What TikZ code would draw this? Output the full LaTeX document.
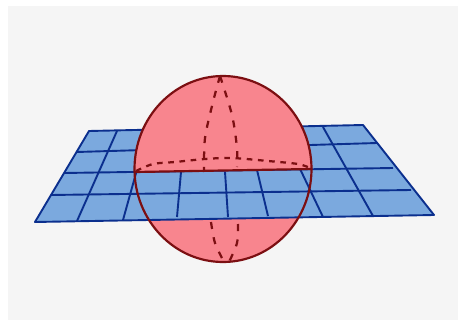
\documentclass[tikz,border=0pt]{standalone}
\definecolor{panelgray}{HTML}{F5F5F5}
\definecolor{planeblue}{HTML}{7BA9DE}
\definecolor{gridblue}{HTML}{0B2F8E}
\definecolor{ballpink}{HTML}{F8858E}
\definecolor{ballred}{HTML}{7C0F12}

\begin{document}
\begin{tikzpicture}[x=0.05cm, y=-0.05cm, line join=round]

\tikzset{
  gridline/.style={gridblue, line width=2.7pt},
  ballline/.style={ballred, line width=3.1pt},
  equatordash/.style={ballred, line width=3.2pt, dash pattern=on 8pt off 8pt},
  meridiandash/.style={ballred, line width=3.2pt, dash pattern=on 10pt off 12pt}
}

% Page and background
\useasboundingbox (0,0) rectangle (460,322);
\fill[panelgray] (8,6) rectangle (458,320);

% Ball centre
\coordinate (centre) at (223,169);

%%% Lower half of the ball, under the plane %%%
\fill[ballpink] (centre) ellipse (4.425cm and 4.65cm);
\draw[meridiandash] plot[smooth] coordinates {(211,222) (215,243) (224,262)};
\draw[meridiandash] plot[smooth] coordinates {(238,224) (237,243) (229,262)};

%%% Plane %%%
\fill[planeblue] (35,222) -- (89,131) -- (363,125) -- (434,215) -- cycle;

% Lines across
\foreach \xa/\ya/\xb/\yb in {77/152/377/143, 64/173/393/168, 51/195/411/190}
  \draw[gridline] (\xa,\ya) -- (\xb,\yb);
% Lines in depth
\foreach \xa/\ya/\xb/\yb in {117/131/77/221, 148/130/123/220, 181/172/177/217, 225/172/228/217, 257/170/268/216, 280/127/323/217, 323/127/373/216}
  \draw[gridline] (\xa,\ya) -- (\xb,\yb);
% Outline
\draw[gridline] (35,222) -- (89,131) -- (363,125) -- (434,215) -- cycle;

%%% Upper half of the ball, over the plane %%%
\begin{scope}
  \clip (120,172.3) -- (326,168.7) -- (326,60) -- (120,60) -- cycle;
  \fill[ballpink] (centre) ellipse (4.425cm and 4.65cm);
\end{scope}

% Hidden lines
\draw[equatordash] plot[smooth] coordinates {(136,171) (153,164) (175,162) (205,159) (232,158) (268,161) (298,164) (310,168)};
\draw[meridiandash] plot[smooth] coordinates {(220,76) (213,102) (205,138) (204,172)};
\draw[meridiandash] plot[smooth] coordinates {(220,76) (232,115) (237,148) (237,167)};

% Equator and outline
\draw[ballline] (135,172) -- (311,169);
\draw[ballline] (centre) ellipse (4.425cm and 4.65cm);

\end{tikzpicture}
\end{document}
